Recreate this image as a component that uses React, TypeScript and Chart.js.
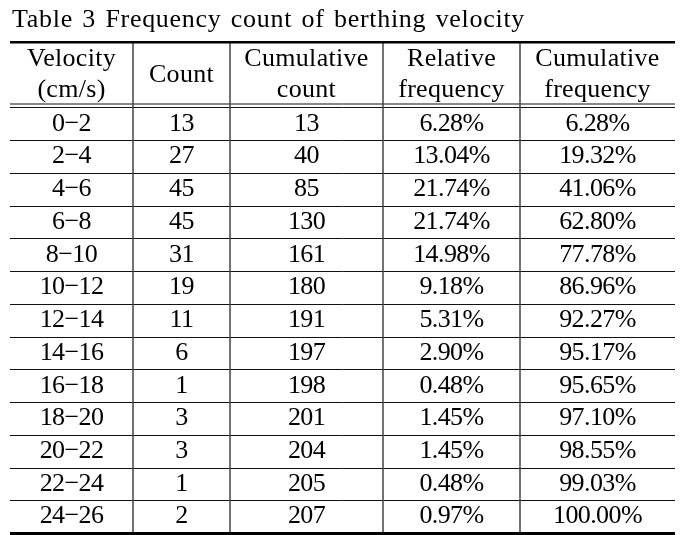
import React, { useEffect, useRef } from "react";
import { Chart, registerables } from "chart.js";

Chart.register(...registerables);

const TITLE = "Table 3 Frequency count of berthing velocity";
const HEADER_LINE1 = ["Velocity", "", "Cumulative", "Relative", "Cumulative"];
const HEADER_LINE2 = ["(cm/s)", "", "count", "frequency", "frequency"];
const HEADER_SPAN = ["", "Count", "", "", ""];
const velocity = ["0−2", "2−4", "4−6", "6−8", "8−10", "10−12", "12−14", "14−16", "16−18", "18−20", "20−22", "22−24", "24−26"];
const count = [13, 27, 45, 45, 31, 19, 11, 6, 1, 3, 3, 1, 2];
const cumulativeCount = [13, 40, 85, 130, 161, 180, 191, 197, 198, 201, 204, 205, 207];
const relativeFrequency = ["6.28%", "13.04%", "21.74%", "21.74%", "14.98%", "9.18%", "5.31%", "2.90%", "0.48%", "1.45%", "1.45%", "0.48%", "0.97%"];
const cumulativeFrequency = ["6.28%", "19.32%", "41.06%", "62.80%", "77.78%", "86.96%", "92.27%", "95.17%", "95.65%", "97.10%", "98.55%", "99.03%", "100.00%"];

// layout: column edges in x-scale units
const COL_EDGES = [0, 123, 220, 373, 510, 665];
const HEADER_UNITS = 2;
const TITLE_WIDTH = 513;

const FONT = "'Liberation Serif', 'Times New Roman', serif";

const tablePlugin = {
  id: "tableDraw",
  afterDraw(chart: any) {
    const ctx = chart.ctx as any;
    const xs = chart.scales.x;
    const ys = chart.scales.y;
    const nRows = velocity.length;
    const left = xs.getPixelForValue(COL_EDGES[0]);
    const right = xs.getPixelForValue(COL_EDGES[COL_EDGES.length - 1]);
    const top = ys.getPixelForValue(0);
    const bottom = ys.getPixelForValue(HEADER_UNITS + nRows);
    ctx.save();

    // title, words spread to the reference width
    ctx.fillStyle = "#000";
    ctx.font = `26px ${FONT}`;
    ctx.letterSpacing = "0.7px";
    ctx.textAlign = "left";
    ctx.textBaseline = "alphabetic";
    const words = TITLE.split(" ");
    const wordsW = words.reduce((s, w) => s + ctx.measureText(w).width, 0);
    const gap = (TITLE_WIDTH - wordsW) / (words.length - 1);
    let tx = left + 2;
    words.forEach((w) => {
      ctx.fillText(w, tx, top - 15);
      tx += ctx.measureText(w).width + gap;
    });
    ctx.letterSpacing = "0px";

    // horizontal row lines
    ctx.strokeStyle = "#111";
    ctx.lineWidth = 1;
    for (let i = 1; i < nRows; i++) {
      const y = Math.round(ys.getPixelForValue(HEADER_UNITS + i)) + 0.5;
      ctx.beginPath();
      ctx.moveTo(left, y);
      ctx.lineTo(right, y);
      ctx.stroke();
    }
    // double line under header
    const hy = Math.round(ys.getPixelForValue(HEADER_UNITS)) + 0.5;
    [hy - 3.5, hy].forEach((y) => {
      ctx.beginPath();
      ctx.moveTo(left, y);
      ctx.lineTo(right, y);
      ctx.stroke();
    });
    // vertical separators
    ctx.strokeStyle = "#444";
    ctx.lineWidth = 1.5;
    for (let c = 1; c < COL_EDGES.length - 1; c++) {
      const x = Math.round(xs.getPixelForValue(COL_EDGES[c]));
      ctx.beginPath();
      ctx.moveTo(x, top);
      ctx.lineTo(x, bottom);
      ctx.stroke();
    }
    // thick top & bottom
    ctx.fillStyle = "#000";
    ctx.fillRect(left, Math.round(top) - 1, right - left, 2.5);
    ctx.fillRect(left, Math.round(bottom) - 1, right - left, 3);

    // text
    ctx.fillStyle = "#000";
    ctx.textAlign = "center";
    ctx.textBaseline = "middle";
    const cx = (c: number) => xs.getPixelForValue((COL_EDGES[c] + COL_EDGES[c + 1]) / 2);
    ctx.font = `26px ${FONT}`;
    ctx.letterSpacing = "0.3px";
    for (let c = 0; c < 5; c++) {
      if (HEADER_SPAN[c]) {
        ctx.fillText(HEADER_SPAN[c], cx(c), ys.getPixelForValue(HEADER_UNITS / 2));
      } else {
        ctx.fillText(HEADER_LINE1[c], cx(c), ys.getPixelForValue(0.5) + 1);
        ctx.fillText(HEADER_LINE2[c], cx(c), ys.getPixelForValue(1.5) - 1);
      }
    }
    ctx.letterSpacing = "-0.6px";
    for (let r = 0; r < nRows; r++) {
      const y = ys.getPixelForValue(HEADER_UNITS + r + 0.5);
      const vals = [velocity[r], String(count[r]), String(cumulativeCount[r]), relativeFrequency[r], cumulativeFrequency[r]];
      vals.forEach((v, c) => ctx.fillText(v, cx(c), y));
    }
    ctx.restore();
  },
};

export default function App() {
  const ref = useRef<HTMLCanvasElement>(null);
  useEffect(() => {
    if (!ref.current) return;
    const chart = new Chart(ref.current, {
      type: "scatter",
      data: { datasets: [{ data: [], pointRadius: 0 }] },
      options: {
        animation: false,
        responsive: false,
        events: [],
        layout: { padding: { left: 10, right: 20, top: 42, bottom: 2 } },
        plugins: {
          legend: { display: false },
          tooltip: { enabled: false },
          title: { display: false },
        },
        scales: {
          x: { type: "linear", min: COL_EDGES[0], max: COL_EDGES[COL_EDGES.length - 1], display: false },
          y: { type: "linear", min: 0, max: HEADER_UNITS + velocity.length, reverse: true, display: false },
        },
      },
      plugins: [tablePlugin],
    });
    return () => chart.destroy();
  }, []);
  return (
    <div style={{ position: "fixed", left: 0, top: 0, width: 695, height: 535, background: "#fff" }}>
      <canvas ref={ref} width={695} height={535} style={{ width: 695, height: 535 }} />
    </div>
  );
}
